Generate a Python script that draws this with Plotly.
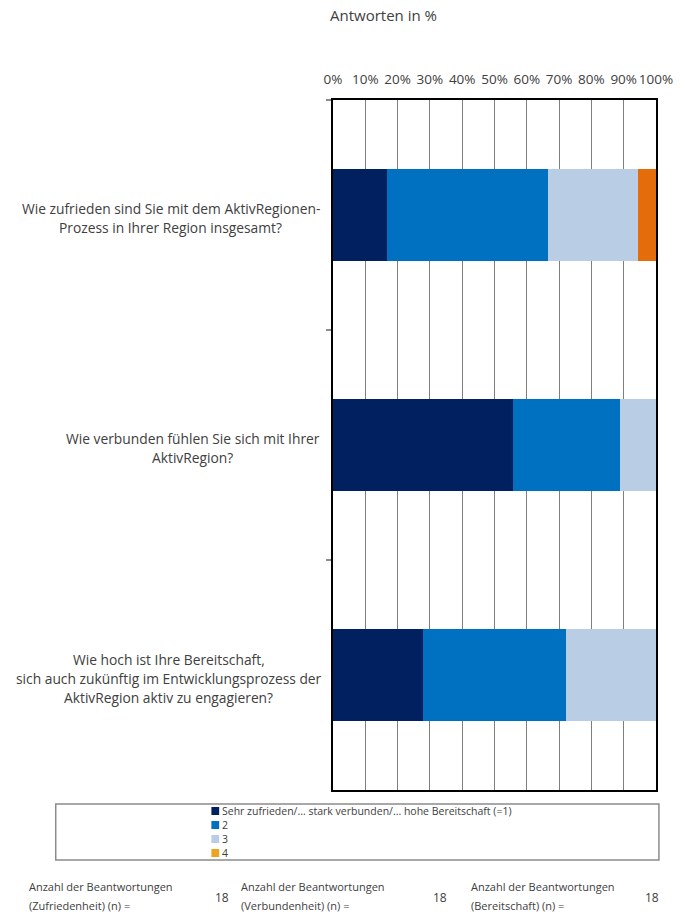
import plotly.graph_objects as go

# Survey questions (one bar each), drawn top to bottom
questions = ["Zufriedenheit", "Verbundenheit", "Bereitschaft"]
question_lines = [
    ["Wie zufrieden sind Sie mit dem AktivRegionen-", "Prozess in Ihrer Region insgesamt?"],
    ["Wie verbunden fühlen Sie sich mit Ihrer", "AktivRegion?"],
    ["Wie hoch ist Ihre Bereitschaft,",
     "sich auch zukünftig im Entwicklungsprozess der",
     "AktivRegion aktiv zu engagieren?"],
]

# Answer shares in percent per rating category (n = 18 each)
rating_names = ["Sehr zufrieden/... stark verbunden/... hohe Bereitschaft (=1)", "2", "3", "4"]
rating_1 = [16.7, 55.6, 27.8]
rating_2 = [50.0, 33.3, 44.4]
rating_3 = [27.8, 11.1, 27.8]
rating_4 = [5.5, 0.0, 0.0]
n_answers = [18, 18, 18]
n_labels = ["(Zufriedenheit) (n) =", "(Verbundenheit) (n) =", "(Bereitschaft) (n) ="]

bar_colors = ["#002060", "#0070C0", "#B9CDE5", "#E46C0A"]
legend_colors = ["#002060", "#0070C0", "#B9CDE5", "#F0A31E"]

FONT = "Open Sans"
TXT = "#404040"

W, H = 685, 914
L, R, T, B = 333, 20, 100, 124
PW, PH = W - L - R, H - T - B


def px(x):
    return (x - L) / PW


def py(y):
    return (H - B - y) / PH


fig = go.Figure()
for name, vals, col in zip(rating_names, [rating_1, rating_2, rating_3, rating_4], bar_colors):
    fig.add_trace(go.Bar(
        y=questions, x=vals, name=name, orientation="h",
        marker=dict(color=col, line=dict(width=0)),
        showlegend=False,
    ))

annotations = []
# question labels, one centered line at a time
label_centers = [166, 189, 164]
for qi, (lines, cx) in enumerate(zip(question_lines, label_centers)):
    n = len(lines)
    for li, text in enumerate(lines):
        annotations.append(dict(
            x=px(cx), xref="paper", y=questions[qi], yref="y",
            yshift=-((li - (n - 1) / 2) * 19) - 3,
            text=text, showarrow=False, xanchor="center", yanchor="middle",
            font=dict(family=FONT, size=13.8, color=TXT),
        ))

# axis title above the percentage scale
annotations.append(dict(
    x=px(385), xref="paper", y=py(15), yref="paper", text="Antworten in %",
    showarrow=False, xanchor="center", yanchor="middle",
    font=dict(family=FONT, size=15, color=TXT),
))

# custom legend
shapes = [dict(
    type="rect", xref="paper", yref="paper",
    x0=px(48), x1=px(668), y0=py(860), y1=py(804),
    line=dict(color="#8C8C8C", width=1.5), fillcolor="rgba(0,0,0,0)",
)]
legend_rows = [811, 825, 839, 853]
for name, col, ry in zip(rating_names, legend_colors, legend_rows):
    shapes.append(dict(
        type="rect", xref="paper", yref="paper",
        x0=px(208), x1=px(216), y0=py(ry + 4), y1=py(ry - 4),
        line=dict(width=0), fillcolor=col,
    ))
    annotations.append(dict(
        x=px(217), xref="paper", y=py(ry), yref="paper", text=name,
        showarrow=False, xanchor="left", yanchor="middle",
        font=dict(family=FONT, size=10.5, color=TXT),
    ))

# response counts below the legend
count_text_x = [18, 236, 473]
count_num_x = [219, 443, 661]
for lbl, nval, tx, nx in zip(n_labels, n_answers, count_text_x, count_num_x):
    for text, ty in [("Anzahl der Beantwortungen", 886), (lbl, 905)]:
        annotations.append(dict(
            x=px(tx), xref="paper", y=py(ty), yref="paper", text=text,
            showarrow=False, xanchor="left", yanchor="middle",
            font=dict(family=FONT, size=11, color=TXT),
        ))
    annotations.append(dict(
        x=px(nx), xref="paper", y=py(897), yref="paper", text=str(nval),
        showarrow=False, xanchor="center", yanchor="middle",
        font=dict(family=FONT, size=12, color=TXT),
    ))

fig.update_layout(
    width=W, height=H,
    margin=dict(l=L, r=R, t=T, b=B, pad=0),
    barmode="stack", bargap=0.6,
    plot_bgcolor="white", paper_bgcolor="white",
    font=dict(family=FONT, size=12, color=TXT),
    xaxis=dict(
        range=[0, 100], dtick=10, ticksuffix="%", side="top", tickangle=0,
        showgrid=True, gridcolor="#7F7F7F", gridwidth=1,
        showline=True, linecolor="#000000", linewidth=1.5, mirror=True,
        ticks="", zeroline=False, fixedrange=True, ticklabelstandoff=9,
        tickfont=dict(family=FONT, size=13.5, color=TXT),
    ),
    yaxis=dict(
        type="category", autorange="reversed",
        showticklabels=False, showgrid=False, zeroline=False,
        ticks="outside", tickson="boundaries", ticklen=5, tickcolor="#8C8C8C", tickwidth=1.5,
        showline=True, linecolor="#000000", linewidth=1.5, mirror=True,
    ),
    annotations=annotations,
    shapes=shapes,
)

fig.write_html("out.html")
